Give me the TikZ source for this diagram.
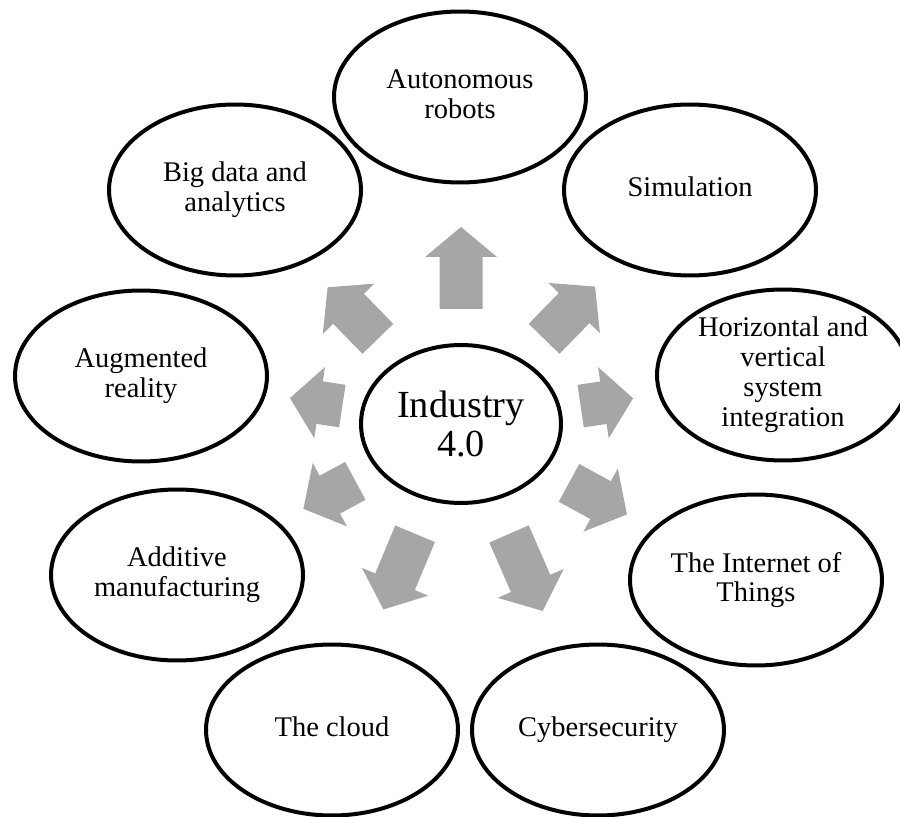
\documentclass[tikz,border=0pt]{standalone}
\usepackage{fontspec}
\setmainfont{Liberation Serif}
\usepackage{xcolor}
\usepackage{tikz}
\usetikzlibrary{shapes.geometric}
\definecolor{spoke}{HTML}{A6A6A6}
\newcommand{\lstrut}{\rule[-3.5pt]{0pt}{13.7pt}}

\begin{document}
\begin{tikzpicture}[x=0.02cm, y=0.02cm,
  topic/.style={ellipse, draw=black, line width=0.08cm, fill=white, inner sep=0pt, align=center, minimum width=5.04cm, minimum height=3.42cm, font=\fontsize{16.2}{17}\selectfont},
  hubnode/.style={topic, minimum width=4cm, minimum height=3.16cm, font=\fontsize{21.8}{22.4}\selectfont}]
\path[use as bounding box, clip] (0,0) rectangle (900,816);
\node[hubnode] (hub) at (461,392) {Industry\\4.0};
\node[topic] (robots) at (460,719) {\lstrut Autonomous\\robots\lstrut};
\node[topic] (sim) at (690,626) {\lstrut Simulation};
\node[topic] (integ) at (783,441) {\lstrut Horizontal and\\vertical\\system\\integration\lstrut};
\node[topic] (iot) at (756,236) {\lstrut The Internet of\\Things\lstrut};
\node[topic] (cyber) at (598,86) {\lstrut Cybersecurity};
\node[topic] (cloud) at (332,86) {\lstrut The cloud};
\node[topic] (addit) at (177,241) {\lstrut Additive\\manufacturing\lstrut};
\node[topic] (augm) at (141,440) {\lstrut Augmented\\reality\lstrut};
\node[topic] (bigdata) at (235,626) {\lstrut Big data and\\analytics\lstrut};
% block arrows out of the hub
\foreach \ang/\dist/\len in {90/115/82, 45.7/119/73, 8.5/121/53, -28.6/123/66, -66.4/120/84, -112.7/119/82, -151.7/120/59, 171.4/120/53, 134.3/119/72}
  \fill[spoke, shift={(hub.center)}, rotate=\ang] (\dist,-21.5) -- (\dist+\len-30,-21.5) -- (\dist+\len-30,-36) -- (\dist+\len,0) -- (\dist+\len-30,36) -- (\dist+\len-30,21.5) -- (\dist,21.5) -- cycle;
\end{tikzpicture}
\end{document}
